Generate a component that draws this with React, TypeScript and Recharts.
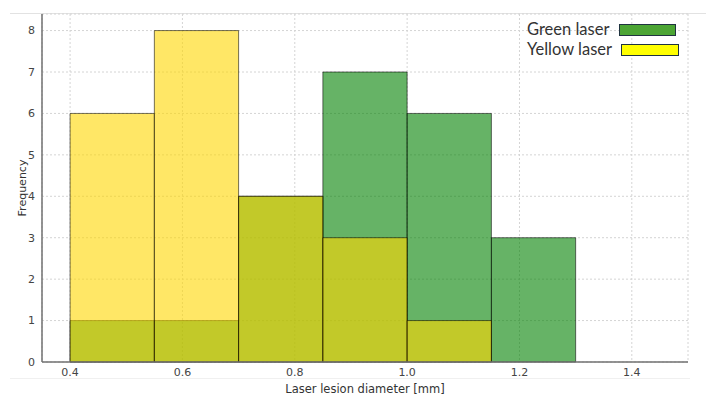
import { ComposedChart, XAxis, YAxis, CartesianGrid, ReferenceArea, Line } from "recharts";

const binEdges = [0.4, 0.55, 0.7, 0.85, 1.0, 1.15, 1.3];
const greenCounts = [1, 1, 4, 7, 6, 3];
const yellowCounts = [6, 8, 4, 3, 1, 0];
const xTicks = [0.4, 0.6, 0.8, 1.0, 1.2, 1.4];
const yTicks = [0, 1, 2, 3, 4, 5, 6, 7, 8];

const bins = (counts: number[]) =>
  counts
    .map((c, i) => ({ x1: binEdges[i], x2: binEdges[i + 1], count: c }))
    .filter((b) => b.count > 0);

const tickStyle = { fontFamily: "DejaVu Sans", fontSize: 11, fill: "#444" };

export default function App() {
  return (
    <div style={{ position: "fixed", left: 0, top: 0, width: 706, height: 398, background: "#fff" }}>
      <div style={{ position: "absolute", left: 10, right: 0, top: 13, height: 1, background: "#e2e2e2" }} />
      <div style={{ position: "absolute", left: 10, width: 680, top: 378, height: 1, background: "#f0f0f0" }} />
      <ComposedChart
        width={706}
        height={398}
        data={[{ x: 0.35 }, { x: 1.5 }]}
        margin={{ top: 14, right: 18, bottom: 0, left: 0 }}
      >
        <CartesianGrid stroke="#d4d4d4" strokeDasharray="2 2" />
        <XAxis
          dataKey="x"
          type="number"
          domain={[0.35, 1.5]}
          ticks={xTicks}
          tickFormatter={(v: number) => v.toFixed(1)}
          tickLine={false}
          tickSize={4}
          height={36}
          stroke="#707070"
          strokeWidth={1.5}
          tick={tickStyle}
          label={{
            value: "Laser lesion diameter [mm]",
            position: "insideBottom",
            offset: 5,
            style: { fontFamily: "DejaVu Sans", fontSize: 11.5, fill: "#333" },
          }}
        />
        <YAxis
          type="number"
          domain={[0, 8.4]}
          ticks={yTicks}
          tickLine={false}
          tickSize={5}
          width={42}
          stroke="#707070"
          strokeWidth={1.5}
          tick={tickStyle}
          label={{
            value: "Frequency",
            angle: -90,
            position: "insideLeft",
            offset: 22,
            style: { textAnchor: "middle", fontFamily: "DejaVu Sans", fontSize: 11, fill: "#333" },
          }}
        />
        {bins(greenCounts).map((b) => (
          <ReferenceArea
            key={"g" + b.x1}
            x1={b.x1}
            x2={b.x2}
            y1={0}
            y2={b.count}
            fill="#008000"
            fillOpacity={0.6}
            stroke="#000"
            strokeOpacity={0.55}
            strokeWidth={1}
          />
        ))}
        {bins(yellowCounts).map((b) => (
          <ReferenceArea
            key={"y" + b.x1}
            x1={b.x1}
            x2={b.x2}
            y1={0}
            y2={b.count}
            fill="#FFD700"
            fillOpacity={0.6}
            stroke="#000"
            strokeOpacity={0.55}
            strokeWidth={1}
          />
        ))}
        <Line dataKey="x" stroke="none" dot={false} isAnimationActive={false} />
      </ComposedChart>
      <div style={{ position: "absolute", left: 527, top: 19, fontFamily: "Lato", fontSize: 16.5, color: "#333", lineHeight: "20px" }}>
        Green laser
      </div>
      <div style={{ position: "absolute", left: 619, top: 24, width: 55, height: 10, background: "#4ca534", border: "1.5px solid #1f3340" }} />
      <div style={{ position: "absolute", left: 527, top: 39, fontFamily: "Lato", fontSize: 16.5, color: "#333", lineHeight: "20px" }}>
        Yellow laser
      </div>
      <div style={{ position: "absolute", left: 621, top: 44, width: 56, height: 10, background: "#ffff00", border: "1.5px solid #1f3340" }} />
    </div>
  );
}
